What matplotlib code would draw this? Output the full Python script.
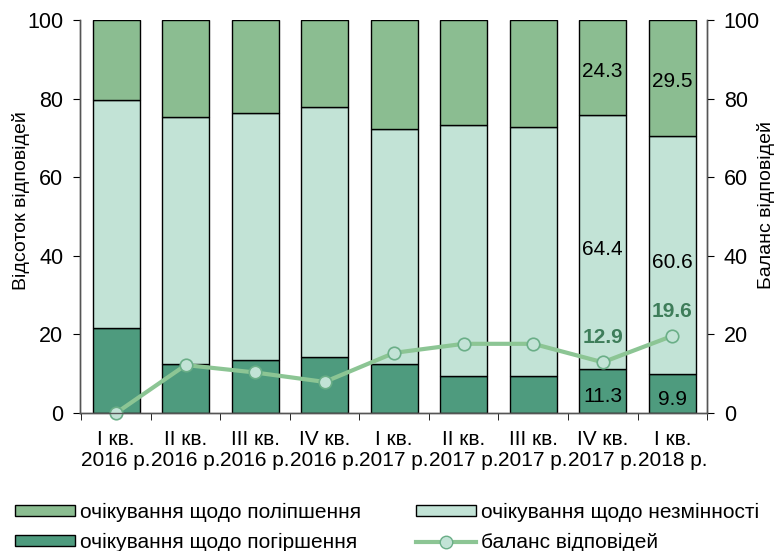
import numpy as np
import matplotlib.pyplot as plt
from matplotlib.patches import Patch
from matplotlib.lines import Line2D

plt.rcParams['font.family'] = ['Liberation Sans', 'DejaVu Sans']

# ----------------
# DATA
# ----------------

quarters = ['I кв.\n2016 р.', 'II кв.\n2016 р.', 'III кв.\n2016 р.', 'IV кв.\n2016 р.',
            'I кв.\n2017 р.', 'II кв.\n2017 р.', 'III кв.\n2017 р.', 'IV кв.\n2017 р.',
            'I кв.\n2018 р.']
worse = [21.6, 12.5, 13.5, 14.2, 12.5, 9.4, 9.4, 11.3, 9.9]
same = [58.0, 62.8, 62.8, 63.7, 59.8, 63.9, 63.4, 64.4, 60.6]
better = [20.4, 24.7, 23.7, 22.1, 27.7, 26.7, 27.2, 24.3, 29.5]
balance = [0.0, 12.2, 10.3, 7.9, 15.3, 17.6, 17.6, 12.9, 19.6]

# which bars / points carry a value label
labelled = [7, 8]

c_better = '#8bbd91'
c_same = '#c2e3d6'
c_worse = '#4e9b7e'
c_line = '#8cc594'
c_text = '#3e7d5a'

# ----------------
# PLOT
# ----------------

fig = plt.figure(figsize=(7.79, 5.51), dpi=100)
ax = fig.add_axes([0.1027, 0.2505, 0.8049, 0.7132])
ax2 = ax.twinx()

x = np.arange(len(quarters))
w = 0.68
worse_a = np.array(worse)
same_a = np.array(same)
better_a = np.array(better)

ax.bar(x, worse_a, w, color=c_worse, edgecolor='black', linewidth=1, zorder=2)
ax.bar(x, same_a, w, bottom=worse_a, color=c_same, edgecolor='black', linewidth=1, zorder=2)
ax.bar(x, better_a, w, bottom=worse_a + same_a, color=c_better, edgecolor='black',
       linewidth=1, zorder=2)

for i in labelled:
    ax.text(x[i], worse_a[i] / 2 - 1.5, f'{worse[i]:.1f}', ha='center', va='center', fontsize=15)
    ax.text(x[i], worse_a[i] + same_a[i] / 2 - 2, f'{same[i]:.1f}', ha='center', va='center', fontsize=15)
    ax.text(x[i], 100 - better_a[i] / 2 - 1, f'{better[i]:.1f}', ha='center', va='center', fontsize=15)

ax.plot(x, balance, color=c_line, linewidth=3, marker='o', markersize=9,
        markerfacecolor=c_same, markeredgecolor='#6aae87', markeredgewidth=1.2,
        zorder=5, clip_on=False)
for i in labelled:
    ax.annotate(f'{balance[i]:.1f}', (x[i], balance[i]), xytext=(0, 11),
                textcoords='offset points', ha='center', va='bottom',
                fontsize=15, fontweight='bold', color=c_text, zorder=6)

ax.set_xlim(-0.52, 8.47)
ax.set_ylim(0, 100)
ax2.set_ylim(0, 100)
ax.set_yticks(range(0, 101, 20))
ax2.set_yticks(range(0, 101, 20))
ax.set_xticks(x)
ax.set_xticklabels(quarters, fontsize=15, linespacing=1.15)
ax.set_xticks(np.arange(-0.5, 9, 1), minor=True)
ax.tick_params(axis='x', which='major', length=0, pad=12)
ax.tick_params(axis='x', which='minor', length=5, direction='out')
ax.tick_params(axis='y', labelsize=15.5, length=5, pad=7, direction='out')
ax2.tick_params(axis='y', labelsize=15.5, length=5, pad=7, direction='out')

ax.set_ylabel('Відсоток відповідей', fontsize=14)
ax2.set_ylabel('Баланс відповідей', fontsize=14)
ax.yaxis.set_label_coords(-0.08, 0.54)
ax2.yaxis.set_label_coords(1.08, 0.53)

for a in (ax, ax2):
    a.spines['top'].set_visible(False)
    for s in ('left', 'right', 'bottom'):
        a.spines[s].set_color('#555555')
        a.spines[s].set_linewidth(1)

handles = [
    Patch(facecolor=c_better, edgecolor='black', label='очікування щодо поліпшення'),
    Patch(facecolor=c_worse, edgecolor='black', label='очікування щодо погіршення'),
    Patch(facecolor=c_same, edgecolor='black', label='очікування щодо незмінності'),
    Line2D([0], [0], color=c_line, linewidth=3, marker='o', markersize=9,
           markerfacecolor=c_same, markeredgecolor='#6aae87', label='баланс відповідей'),
]
fig.legend(handles=handles, ncol=2, loc='center left', bbox_to_anchor=(0.019, 0.043),
           frameon=False, fontsize=15, handlelength=2.9, handleheight=0.45,
           handletextpad=0.25, columnspacing=2.6, labelspacing=0.55, borderpad=0,
           borderaxespad=0)

plt.savefig('out.png', dpi=100)
